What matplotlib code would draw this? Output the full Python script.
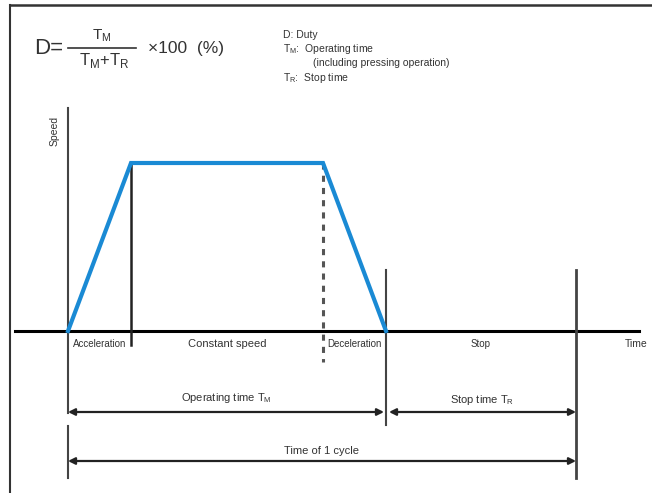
import matplotlib.pyplot as plt

plt.rcParams['font.family'] = ['Liberation Sans', 'DejaVu Sans']
plt.rcParams['mathtext.fontset'] = 'custom'
plt.rcParams['mathtext.rm'] = 'Liberation Sans'

# Phase boundaries along the time axis (diagram px) and speed profile
phase_names = ['Acceleration', 'Constant speed', 'Deceleration', 'Stop']
phase_edges = [68, 131, 323, 386, 576]
profile_time = [68, 131, 323, 386]
profile_speed = [0, 1, 1, 0]

# Dimension spans: (label, start, end)
operating_span = ('Operating time T$_\\mathrm{M}$', 68, 386)
stop_span = ('Stop time T$_\\mathrm{R}$', 389, 576)
cycle_span = ('Time of 1 cycle', 68, 576)

# mapping speed -> vertical px
Y0, Y1 = 331, 163


def sy(v):
    return Y0 + (Y1 - Y0) * v


fig = plt.figure(figsize=(6.52, 4.93), dpi=100)
ax = fig.add_axes([0, 0, 1, 1])
ax.set_xlim(0, 652)
ax.set_ylim(493, 0)
ax.axis('off')

# frame
ax.plot([10, 652], [5, 5], color='#333333', lw=1.8)
ax.plot([10, 10], [5, 493], color='#333333', lw=1.5)

# axes of the diagram
ax.plot([15, 639], [Y0, Y0], color='black', lw=2.2, zorder=2)
ax.plot([68, 68], [108, 413], color='#444444', lw=1.5)
ax.plot([68, 68], [426, 478], color='#444444', lw=1.5)

# phase boundaries
ax.plot([phase_edges[1]] * 2, [sy(1), 345], color='#222222', lw=1.8)
ax.plot([phase_edges[2]] * 2, [sy(1), 362], color='#555555', lw=2.2,
        linestyle=(0, (2, 2)))
ax.plot([phase_edges[3]] * 2, [270, 425], color='#444444', lw=1.5)
ax.plot([phase_edges[4]] * 2, [270, 478], color='#444444', lw=2)

# speed profile
ax.plot(profile_time, [sy(v) for v in profile_speed], color='#1a8ad4', lw=3,
        solid_joinstyle='miter', zorder=3)

# phase labels under the axis
for i, name in enumerate(phase_names):
    xc = (phase_edges[i] + phase_edges[i + 1]) / 2
    fs = 8 if name == 'Constant speed' else 7
    ax.text(xc, 344, name, ha='center', va='center', fontsize=fs, color='#333333')
ax.text(625, 344, 'Time', ha='left', va='center', fontsize=7.5, color='#333333')
ax.text(55, 131, 'Speed', rotation=90, ha='center', va='center', fontsize=7.5,
        color='#333333')


def dim_arrow(x0, x1, y, label, ty):
    ax.annotate('', xy=(x0, y), xytext=(x1, y),
                arrowprops=dict(arrowstyle='<|-|>', color='#222222', lw=1.6,
                                mutation_scale=10, shrinkA=0, shrinkB=0))
    ax.text((x0 + x1) / 2, ty, label, ha='center', va='center', fontsize=8,
            color='#333333')


dim_arrow(operating_span[1], operating_span[2] - 2, 412, operating_span[0], 398)
dim_arrow(stop_span[1], stop_span[2], 412, stop_span[0], 400)
dim_arrow(cycle_span[1], cycle_span[2], 461, cycle_span[0], 451)

# duty formula
ax.text(34, 48, 'D=', ha='left', va='center', fontsize=16, color='#333333')
ax.plot([68, 136], [48, 48], color='#333333', lw=1.2)
ax.text(102, 36, 'T$_\\mathrm{M}$', ha='center', va='center', fontsize=11,
        color='#333333')
ax.text(104, 61, 'T$_\\mathrm{M}$+T$_\\mathrm{R}$', ha='center', va='center',
        fontsize=12, color='#333333')
ax.text(148, 48, '×100  (%)', ha='left', va='center', fontsize=12.5,
        color='#333333')

# legend of symbols
ax.text(283, 35, 'D: Duty', ha='left', va='center', fontsize=7.5, color='#333333')
ax.text(283, 49, 'T$_\\mathrm{M}$:  Operating time', ha='left', va='center',
        fontsize=7.5, color='#333333')
ax.text(313, 63, '(including pressing operation)', ha='left', va='center',
        fontsize=7.5, color='#333333')
ax.text(283, 78, 'T$_\\mathrm{R}$:  Stop time', ha='left', va='center',
        fontsize=7.5, color='#333333')

fig.savefig('out.png', dpi=100)
